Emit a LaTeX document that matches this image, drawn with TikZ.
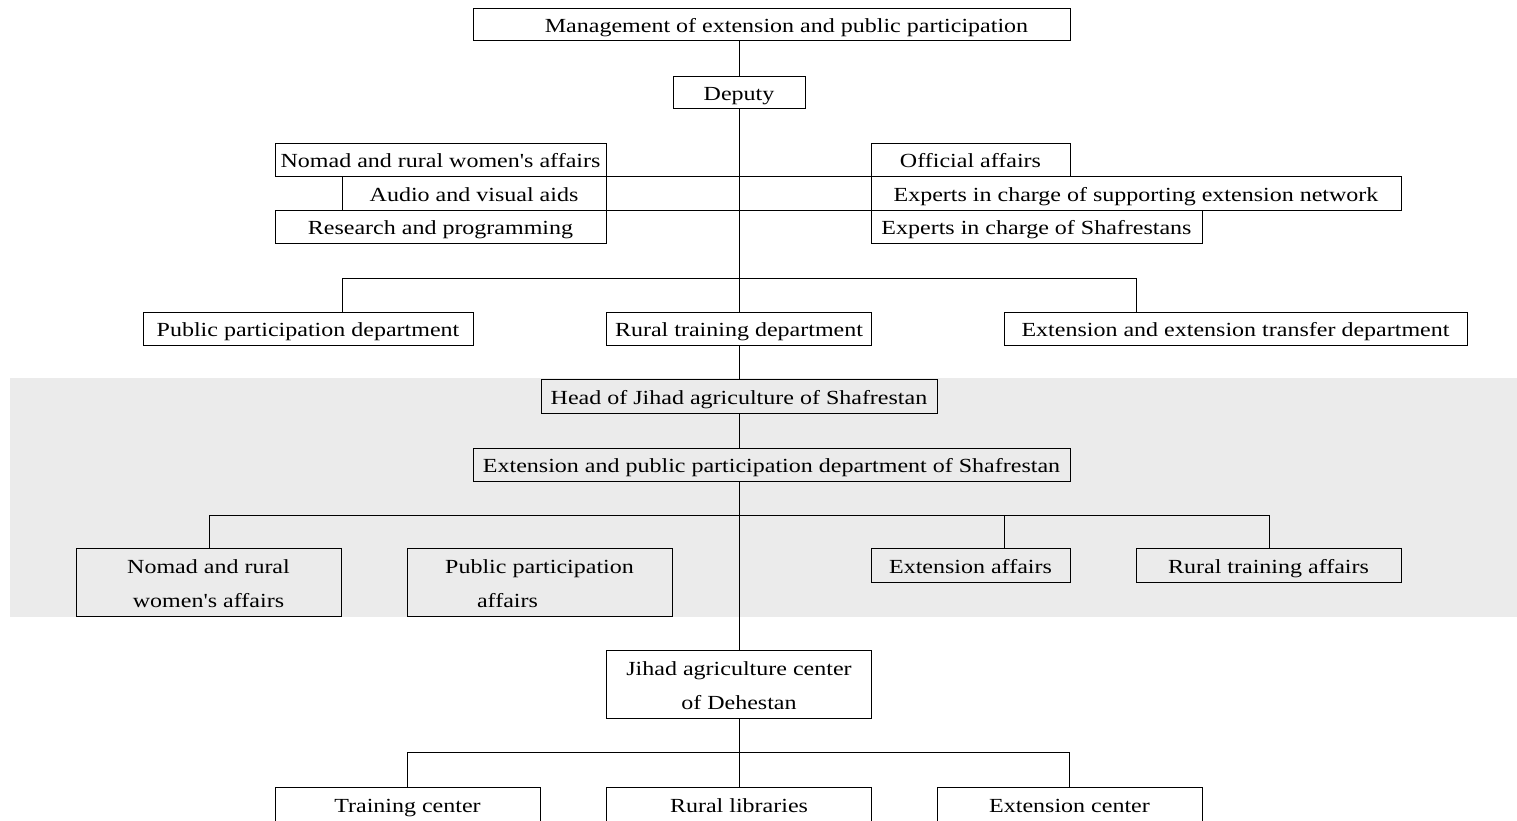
\documentclass[tikz,border=0pt]{standalone}
\usepackage{fontspec}
\setmainfont{Liberation Serif}[FakeStretch=1.2,Ligatures=TeXOff]
\begin{document}
\begin{tikzpicture}[x=1pt,y=-1pt,
  box/.style={draw,line width=0.9pt,inner sep=0pt,align=center,
    font=\fontsize{20}{34}\selectfont,text height=20pt,text depth=4pt},
  box2/.style={box,text height=54pt,text depth=4pt},
  conn/.style={line width=0.9pt},
  shade/.style={fill=black!8,draw=none}]
\useasboundingbox (0,0) rectangle (1517,820);
% shaded region
\path[shade] (10,378) rectangle (1517,617);
% top
\node[box,minimum width=597pt,minimum height=32pt] (mgmt) at (771.5,24) {\hspace*{30pt}Management of extension and public participation};
\node[box,minimum width=132pt,minimum height=32pt] (dep) at (739,92) {Deputy};
% staff
\node[box,minimum width=331pt,minimum height=33pt] (nomad) at (440.5,159.5) {Nomad and rural women's affairs};
\node[box,minimum width=264pt,minimum height=34pt] (audio) at (474,193) {Audio and visual aids};
\node[box,minimum width=331pt,minimum height=33pt] (research) at (440.5,226.5) {Research and programming};
\node[box,minimum width=199pt,minimum height=33pt] (official) at (970.5,159.5) {Official affairs};
\node[box,minimum width=530pt,minimum height=34pt] (expnet) at (1136,193) {Experts in charge of supporting extension network};
\node[box,minimum width=331pt,minimum height=33pt] (expshaf) at (1036.5,226.5) {Experts in charge of Shafrestans};
% departments
\node[box,minimum width=330pt,minimum height=33pt] (ppd) at (308,328.5) {Public participation department};
\node[box,minimum width=265pt,minimum height=33pt] (rtd) at (739,328.5) {Rural training department};
\node[box,minimum width=463pt,minimum height=33pt] (eetd) at (1235.5,328.5) {Extension and extension transfer department};
% Shafrestan
\node[box,minimum width=396pt,minimum height=34pt] (head) at (739,396) {Head of Jihad agriculture of Shafrestan};
\node[box,minimum width=597pt,minimum height=33pt] (epd) at (771.5,464.5) {Extension and public participation department of Shafrestan};
\node[box2,minimum width=265pt,minimum height=68pt] (nrw) at (208.5,582) {Nomad and rural\\women's affairs};
\node[box2,minimum width=265pt,minimum height=68pt] (ppa) at (539.5,582) {Public participation\\affairs\hspace*{64pt}};
\node[box,minimum width=199pt,minimum height=34pt] (ea) at (970.5,565) {Extension affairs};
\node[box,minimum width=265pt,minimum height=34pt] (rta) at (1268.5,565) {Rural training affairs};
% Dehestan
\node[box2,minimum width=265pt,minimum height=68pt] (jac) at (739,684) {Jihad agriculture center\\of Dehestan};
\node[box,minimum width=265pt,minimum height=34pt] (tc) at (407.5,804) {Training center};
\node[box,minimum width=265pt,minimum height=34pt] (rl) at (739,804) {Rural libraries};
\node[box,minimum width=265pt,minimum height=34pt] (ec) at (1069.5,804) {Extension center};
% branch coordinates
\coordinate (b1l) at (342,278);
\coordinate (b1r) at (1136,278);
\coordinate (b2l) at (209,515);
\coordinate (b2m) at (1004,515);
\coordinate (b2r) at (1269,515);
\coordinate (b3l) at (407.5,752);
\coordinate (b3r) at (1069.5,752);
% connectors
\draw[conn] (dep.north) -- (dep.north |- mgmt.south);
\draw[conn] (dep.south) -- (rtd.north);
\draw[conn] (nomad.south east) -- (nomad.south east -| official.west);
\draw[conn] (audio.south east) -- (audio.south east -| expnet.west);
\draw[conn] (b1l |- ppd.north) -- (b1l) -- (b1r) -- (b1r |- eetd.north);
\draw[conn] (rtd.south) -- (head.north);
\draw[conn] (head.south) -- (head.south |- epd.north);
\draw[conn] (head.south |- epd.south) -- (jac.north);
\draw[conn] (b2l |- nrw.north) -- (b2l) -- (b2r) -- (b2r |- rta.north);
\draw[conn] (b2m) -- (b2m |- ea.north);
\draw[conn] (jac.south) -- (rl.north);
\draw[conn] (tc.north) -- (b3l) -- (b3r) -- (ec.north);
\end{tikzpicture}
\end{document}
